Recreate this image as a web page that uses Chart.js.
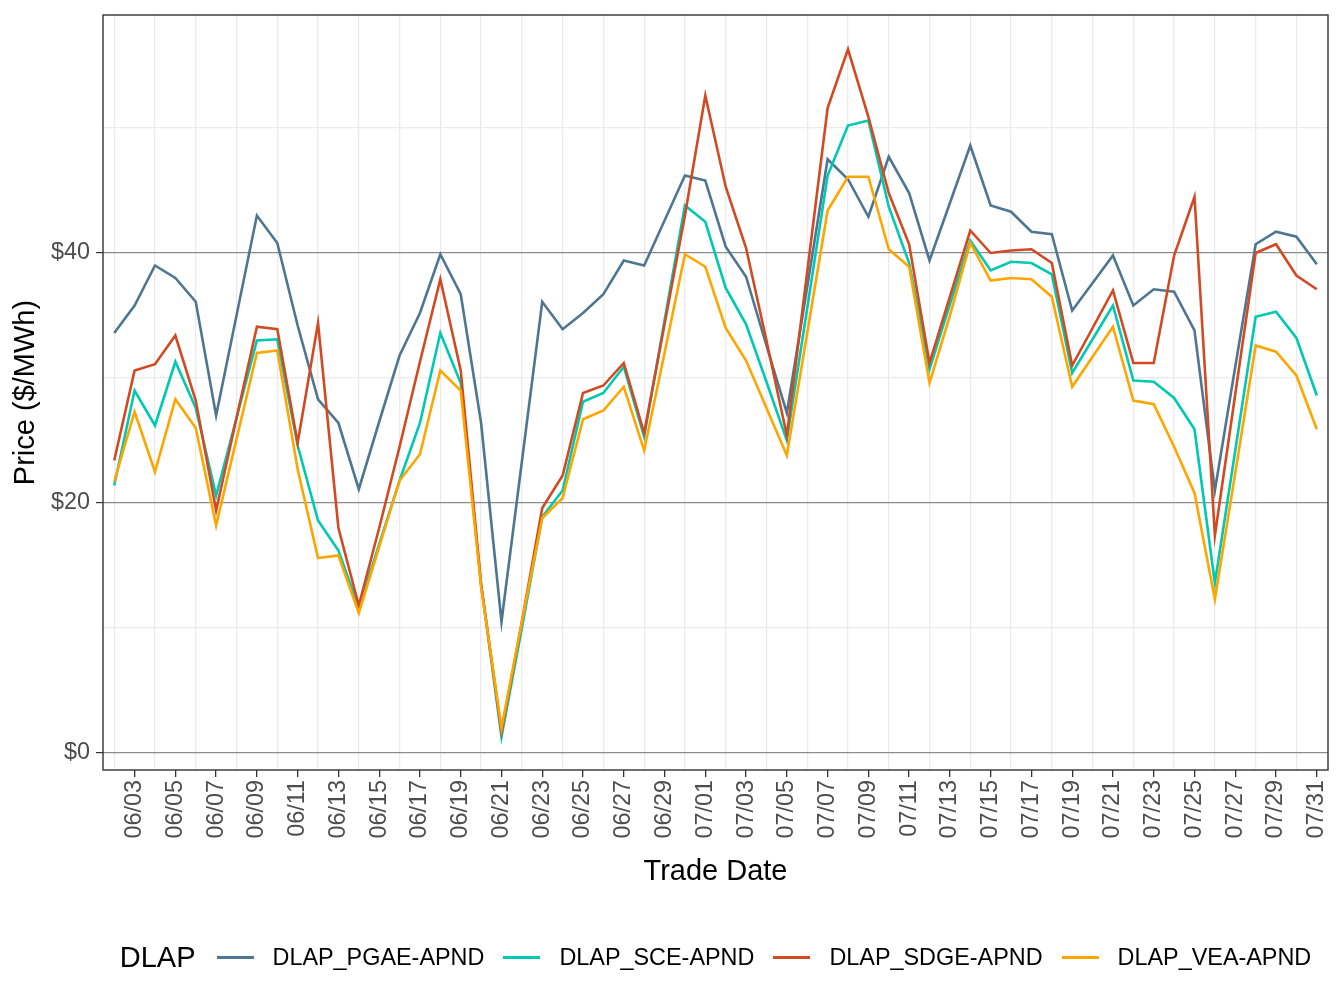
<!DOCTYPE html>
<html>
<head>
<meta charset="utf-8">
<script src="https://cdn.jsdelivr.net/npm/chart.js@4.4.1/dist/chart.umd.min.js"></script>
<style>
  html, body { margin: 0; padding: 0; background: #fff; }
  #wrap { position: relative; width: 1344px; height: 1008px; }
  #legend {
    position: absolute; left: 103px; width: 1225px; top: 932px; height: 50px;
    display: flex; align-items: center; justify-content: center;
    font-family: "Liberation Sans", Arial, sans-serif; color: #000;
  }
  #legend .title { font-size: 29px; margin-right: 21px; }
  #legend .item { display: flex; align-items: center; margin-right: 19px; font-size: 23.4px; }
  #legend .item:last-child { margin-right: 0; }
  #legend .swatch { width: 37px; height: 3px; margin-right: 19px; }
</style>
</head>
<body>
<div id="wrap">
  <canvas id="myChart" width="1344" height="1008"></canvas>
  <div id="legend"></div>
</div>
<script>
// trade dates 06/02 .. 07/31
const tradeDates = [
  "06/02","06/03","06/04","06/05","06/06","06/07","06/08","06/09","06/10","06/11",
  "06/12","06/13","06/14","06/15","06/16","06/17","06/18","06/19","06/20","06/21",
  "06/22","06/23","06/24","06/25","06/26","06/27","06/28","06/29","06/30","07/01",
  "07/02","07/03","07/04","07/05","07/06","07/07","07/08","07/09","07/10","07/11",
  "07/12","07/13","07/14","07/15","07/16","07/17","07/18","07/19","07/20","07/21",
  "07/22","07/23","07/24","07/25","07/26","07/27","07/28","07/29","07/30","07/31"
];

const pgae = [
  33.6, 35.8, 39.0, 38.0, 36.1, 27.0, 35.0, 43.0, 40.8, 34.2,
  28.3, 26.4, 21.1, 26.5, 31.8, 35.2, 39.9, 36.7, 26.4, 10.5,
  23.3, 36.1, 33.9, 35.2, 36.7, 39.4, 39.0, 42.6, 46.2, 45.8,
  40.5, 38.1, 32.6, 27.2, 37.3, 47.5, 45.9, 42.9, 47.7, 44.8,
  39.4, 44.0, 48.6, 43.8, 43.3, 41.7, 41.5, 35.4, 37.6, 39.8,
  35.8, 37.1, 36.9, 33.8, 21.0, 30.9, 40.7, 41.7, 41.3, 39.1
];
const sce = [
  21.4, 29.0, 26.2, 31.3, 27.6, 20.6, 26.8, 33.0, 33.1, 24.6,
  18.6, 16.2, 11.6, 16.7, 21.8, 26.4, 33.6, 29.6, 13.5, 1.3,
  10.0, 18.9, 21.0, 28.1, 28.8, 30.9, 25.3, 34.6, 43.8, 42.5,
  37.2, 34.3, 29.7, 25.0, 35.6, 46.2, 50.2, 50.6, 43.7, 39.2,
  30.7, 35.9, 41.0, 38.6, 39.3, 39.2, 38.3, 30.4, 33.1, 35.8,
  29.8, 29.7, 28.4, 25.9, 13.6, 24.2, 34.9, 35.3, 33.2, 28.6
];
const sdge = [
  23.4, 30.6, 31.1, 33.4, 28.2, 19.4, 26.8, 34.1, 33.9, 24.8,
  34.4, 18.0, 11.8, 18.0, 24.5, 31.3, 37.9, 30.6, 13.5, 1.7,
  10.5, 19.6, 22.2, 28.8, 29.4, 31.2, 25.6, 34.3, 43.0, 52.6,
  45.3, 40.4, 33.0, 25.4, 38.5, 51.6, 56.3, 50.9, 44.8, 40.7,
  31.2, 36.5, 41.8, 40.0, 40.2, 40.3, 39.2, 31.0, 34.0, 37.0,
  31.2, 31.2, 39.8, 44.5, 17.4, 28.7, 40.0, 40.7, 38.2, 37.1
];
const vea = [
  21.7, 27.3, 22.5, 28.3, 26.0, 18.2, 25.1, 32.0, 32.2, 22.7,
  15.6, 15.8, 11.2, 16.5, 21.8, 23.9, 30.6, 29.0, 13.3, 2.0,
  10.5, 18.8, 20.4, 26.7, 27.4, 29.3, 24.2, 32.0, 39.9, 38.9,
  34.0, 31.4, 27.6, 23.8, 33.6, 43.4, 46.1, 46.1, 40.3, 38.9,
  29.6, 35.0, 40.8, 37.8, 38.0, 37.9, 36.5, 29.3, 31.7, 34.1,
  28.2, 27.9, 24.5, 20.8, 12.3, 22.4, 32.6, 32.1, 30.2, 25.9
];

const seriesNames = ["DLAP_PGAE-APND", "DLAP_SCE-APND", "DLAP_SDGE-APND", "DLAP_VEA-APND"];
const seriesColors = ["#4e7690", "#00c9b1", "#d14a22", "#ffa500"];
const seriesValues = [pgae, sce, sdge, vea];

const yTicks = [0, 10, 20, 30, 40, 50];
const yMajor = [0, 20, 40];

const FONT = "'Liberation Sans', Arial, sans-serif";

const datasets = seriesNames.map((name, i) => ({
  label: name,
  data: seriesValues[i].map((v, d) => ({ x: d, y: v })),
  borderColor: seriesColors[i],
  backgroundColor: seriesColors[i],
  borderWidth: 2.6,
  pointRadius: 0,
  tension: 0,
  fill: false,
  order: seriesNames.length - i,
}));

// panel border drawn on top, like ggplot
const panelBorder = {
  id: "panelBorder",
  afterDatasetsDraw(chart) {
    const { ctx, chartArea: a } = chart;
    ctx.save();
    ctx.strokeStyle = "#333333";
    ctx.lineWidth = 1.4;
    ctx.strokeRect(a.left, a.top, a.right - a.left, a.bottom - a.top);
    ctx.restore();
  }
};

// html legend built from the chart's datasets
const htmlLegend = {
  id: "htmlLegend",
  afterUpdate(chart) {
    const box = document.getElementById("legend");
    box.innerHTML = "";
    const t = document.createElement("span");
    t.className = "title";
    t.textContent = "DLAP";
    box.appendChild(t);
    chart.data.datasets.forEach(ds => {
      const item = document.createElement("span");
      item.className = "item";
      const sw = document.createElement("span");
      sw.className = "swatch";
      sw.style.background = ds.borderColor;
      const lab = document.createElement("span");
      lab.textContent = ds.label;
      item.appendChild(sw);
      item.appendChild(lab);
      box.appendChild(item);
    });
  }
};

const noOverflow = (scale) => {
  scale.paddingLeft = 0;
  scale.paddingRight = 0;
  scale.paddingTop = 0;
  scale.paddingBottom = 0;
};

new Chart(document.getElementById("myChart"), {
  type: "line",
  data: { datasets },
  plugins: [panelBorder, htmlLegend],
  options: {
    responsive: false,
    animation: false,
    devicePixelRatio: 1,
    layout: { padding: { left: 0, top: 15, right: 16, bottom: 0 } },
    plugins: { legend: { display: false }, tooltip: { enabled: false } },
    scales: {
      x: {
        type: "linear",
        min: -0.55,
        max: 59.55,
        afterBuildTicks: (scale) => { scale.ticks = tradeDates.map((d, i) => ({ value: i })); },
        afterFit: (scale) => { scale.height = 238; noOverflow(scale); },
        border: { display: false },
        grid: {
          color: (c) => (c.tick && c.tick.value % 2 === 0 ? "#ebebeb" : "rgba(0,0,0,0)"),
          tickColor: (c) => (c.tick && c.tick.value % 2 === 1 ? "#333333" : "rgba(0,0,0,0)"),
          lineWidth: 1.3,
          tickLength: 7,
        },
        ticks: {
          autoSkip: false,
          maxRotation: 90,
          minRotation: 90,
          padding: 3,
          color: "#4d4d4d",
          font: { family: FONT, size: 23.4 },
          callback: (v) => (v % 2 === 1 ? tradeDates[v] : ""),
        },
        title: {
          display: true,
          text: "Trade Date",
          color: "#000000",
          font: { family: FONT, size: 29 },
          padding: { top: 0, bottom: 119 },
        },
      },
      y: {
        min: -1.36,
        max: 59.04,
        afterBuildTicks: (scale) => { scale.ticks = yTicks.map(v => ({ value: v })); },
        afterFit: (scale) => { scale.width = 103; noOverflow(scale); },
        border: { display: false },
        grid: {
          color: (c) => (yMajor.includes(c.tick.value) ? "#8c8c8c" : "#ebebeb"),
          tickColor: (c) => (yMajor.includes(c.tick.value) ? "#333333" : "rgba(0,0,0,0)"),
          lineWidth: (c) => (yMajor.includes(c.tick.value) ? 1.2 : 1.3),
          tickLength: 7,
        },
        ticks: {
          padding: 6,
          color: "#4d4d4d",
          font: { family: FONT, size: 23.4 },
          callback: (v) => (yMajor.includes(v) ? "$" + v : ""),
        },
        title: {
          display: true,
          text: "Price ($/MWh)",
          color: "#000000",
          font: { family: FONT, size: 29 },
          padding: { top: 9, bottom: 0 },
        },
      },
    },
  },
});
</script>
</body>
</html>
